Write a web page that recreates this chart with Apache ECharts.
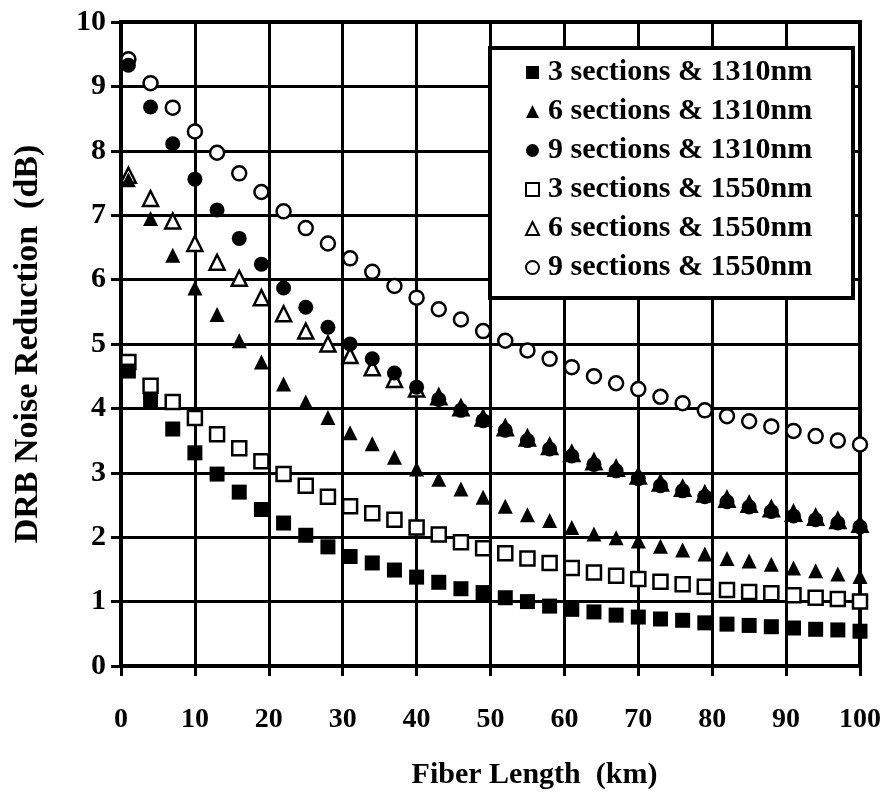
<!DOCTYPE html>
<html>
<head>
<meta charset="utf-8">
<script src="https://cdn.jsdelivr.net/npm/echarts@6/dist/echarts.min.js"></script>
<style>
  html, body { margin: 0; padding: 0; background: #fff; }
  #chart { width: 887px; height: 802px; }
</style>
</head>
<body>
<div id="chart"></div>
<script>
// Fiber length (km) at which each measurement was taken
const fiberKm = [1, 4, 7, 10, 13, 16, 19, 22, 25, 28,
                 31, 34, 37, 40, 43, 46, 49, 52, 55, 58,
                 61, 64, 67, 70, 73, 76, 79, 82, 85, 88,
                 91, 94, 97, 100];

// DRB noise reduction (dB), one list per configuration
const sec3nm1310 = [4.58, 4.11, 3.68, 3.31, 2.98, 2.70, 2.43, 2.22, 2.03, 1.85,
                    1.70, 1.60, 1.49, 1.38, 1.30, 1.20, 1.14, 1.06, 1.00, 0.93,
                    0.88, 0.84, 0.79, 0.76, 0.73, 0.71, 0.67, 0.65, 0.63, 0.61,
                    0.59, 0.57, 0.56, 0.54];
const sec6nm1310 = [7.55, 6.95, 6.38, 5.87, 5.46, 5.05, 4.72, 4.38, 4.10, 3.86,
                    3.62, 3.45, 3.24, 3.06, 2.90, 2.75, 2.62, 2.48, 2.35, 2.26,
                    2.15, 2.05, 1.99, 1.94, 1.86, 1.80, 1.74, 1.67, 1.63, 1.58,
                    1.52, 1.48, 1.43, 1.39];
const sec9nm1310 = [9.33, 8.68, 8.11, 7.56, 7.08, 6.64, 6.24, 5.87, 5.57, 5.26,
                    5.00, 4.77, 4.55, 4.33, 4.14, 3.97, 3.81, 3.66, 3.50, 3.37,
                    3.26, 3.13, 3.03, 2.91, 2.80, 2.72, 2.63, 2.55, 2.47, 2.40,
                    2.33, 2.27, 2.22, 2.16];
const sec3nm1550 = [4.72, 4.35, 4.10, 3.85, 3.60, 3.38, 3.18, 2.98, 2.80, 2.63,
                    2.48, 2.37, 2.27, 2.15, 2.04, 1.92, 1.83, 1.75, 1.67, 1.60,
                    1.52, 1.45, 1.40, 1.35, 1.31, 1.27, 1.23, 1.18, 1.15, 1.13,
                    1.10, 1.06, 1.04, 1.00];
const sec6nm1550 = [7.62, 7.26, 6.91, 6.56, 6.27, 6.02, 5.72, 5.47, 5.20, 5.00,
                    4.82, 4.63, 4.45, 4.30, 4.18, 4.01, 3.85, 3.70, 3.54, 3.41,
                    3.30, 3.17, 3.07, 2.95, 2.84, 2.76, 2.67, 2.59, 2.51, 2.44,
                    2.37, 2.31, 2.26, 2.20];
const sec9nm1550 = [9.42, 9.05, 8.67, 8.30, 7.97, 7.65, 7.36, 7.06, 6.80, 6.56,
                    6.33, 6.12, 5.90, 5.72, 5.54, 5.38, 5.20, 5.05, 4.90, 4.77,
                    4.64, 4.50, 4.39, 4.30, 4.18, 4.08, 3.97, 3.88, 3.80, 3.72,
                    3.65, 3.57, 3.50, 3.44];

const seriesNames = ['3 sections & 1310nm', '6 sections & 1310nm', '9 sections & 1310nm',
                     '3 sections & 1550nm', '6 sections & 1550nm', '9 sections & 1550nm'];

const FONT = '"Liberation Serif", "Times New Roman", serif';
const solid = { color: '#000', opacity: 1 };
const hollow = { color: '#fff', borderColor: '#000', borderWidth: 2.5, opacity: 1 };

function points(values) {
  return fiberKm.map((km, i) => [km, values[i]]);
}

function scatter(name, values, symbol, size, style, z) {
  return {
    name, type: 'scatter', symbol, symbolSize: size,
    itemStyle: style, z, data: points(values),
    emphasis: { disabled: true }
  };
}

const chart = echarts.init(document.getElementById('chart'));

chart.setOption({
  backgroundColor: '#fff',
  animation: false,
  grid: {
    left: 121, top: 22, width: 739, height: 644,
    show: true, borderColor: '#000', borderWidth: 4
  },
  xAxis: {
    type: 'value', min: 0, max: 100, interval: 10,
    name: 'Fiber Length  (km)',
    nameLocation: 'middle', nameGap: 94,
    nameTextStyle: { fontFamily: FONT, fontWeight: 'bold', fontSize: 30, color: '#000',
                     padding: [0, 0, 0, 88] },
    axisLine: { show: true, lineStyle: { color: '#000', width: 4 } },
    axisTick: { show: true, length: 10, lineStyle: { color: '#000', width: 3 } },
    splitLine: { show: true, lineStyle: { color: '#000', width: 3 } },
    axisLabel: { margin: 40, fontFamily: FONT, fontWeight: 'bold', fontSize: 28, color: '#000' }
  },
  yAxis: {
    type: 'value', min: 0, max: 10, interval: 1,
    name: 'DRB Noise Reduction  (dB)',
    nameLocation: 'middle', nameGap: 76, nameRotate: 90,
    nameTextStyle: { fontFamily: FONT, fontWeight: 'bold', fontSize: 34, color: '#000' },
    axisLine: { show: true, lineStyle: { color: '#000', width: 4 } },
    axisTick: { show: true, length: 10, lineStyle: { color: '#000', width: 3 } },
    splitLine: { show: true, lineStyle: { color: '#000', width: 3 } },
    axisLabel: { margin: 15, fontFamily: FONT, fontWeight: 'bold', fontSize: 30, color: '#000' }
  },
  graphic: [{
    type: 'rect', z: 3,
    shape: { x: 490, y: 48, width: 363, height: 250 },
    style: { fill: '#fff', stroke: '#000', lineWidth: 4 }
  }],
  legend: {
    orient: 'vertical', left: 520, top: 52, z: 5,
    itemWidth: 13, itemHeight: 13, itemGap: 8,
    data: seriesNames,
    textStyle: { fontFamily: FONT, fontWeight: 'bold', fontSize: 30, lineHeight: 31,
                 color: '#000', padding: [0, 0, 0, 4] }
  },
  series: [
    scatter(seriesNames[0], sec3nm1310, 'rect', 15, solid, 3),
    scatter(seriesNames[1], sec6nm1310, 'triangle', 15, solid, 3),
    scatter(seriesNames[2], sec9nm1310, 'circle', 15, solid, 3),
    scatter(seriesNames[3], sec3nm1550, 'rect', 14, hollow, 2),
    scatter(seriesNames[4], sec6nm1550, 'triangle', 15, hollow, 2),
    scatter(seriesNames[5], sec9nm1550, 'circle', 14, hollow, 2)
  ]
});
</script>
</body>
</html>
